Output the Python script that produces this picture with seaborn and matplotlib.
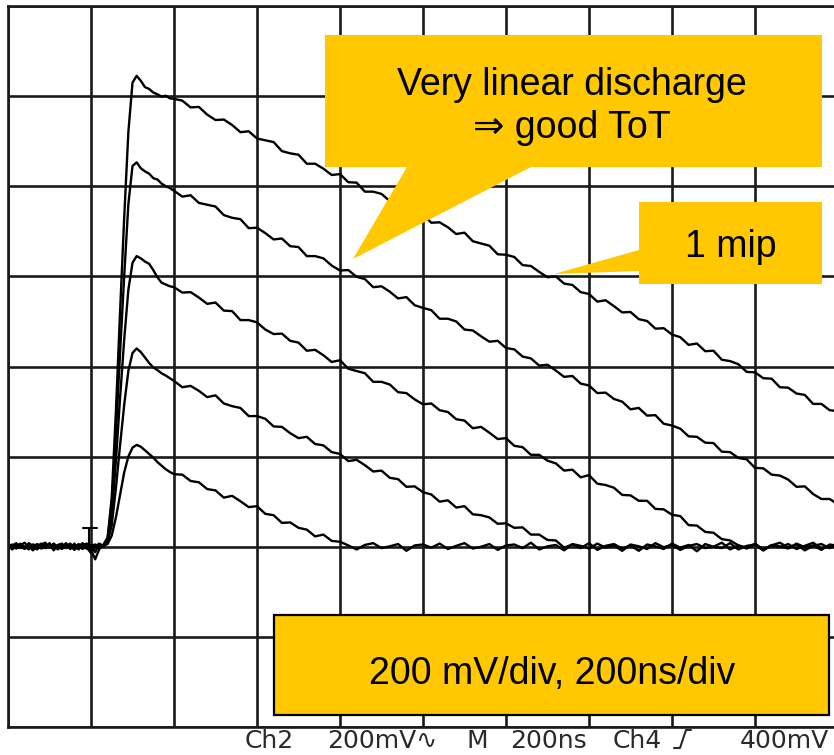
import numpy as np
import pandas as pd
import matplotlib
matplotlib.use("Agg")
import matplotlib.pyplot as plt
from matplotlib.patches import Polygon, Rectangle
import seaborn as sns

# Sample times (ns): 10 ns steps around the trigger edge, 20 ns along the discharge
t_ns = np.r_[np.arange(-200, 201, 10), np.arange(220, 1801, 20)]

# Recorded preamp output for five input charges (mV above baseline)
trace_1 = [
    4, -3, 6, 1, -5, 8, 2, -4, 5, 9,
    -2, 3, -6, 4, 1, 7, -3, 2, -5, 6,
    -8, 3, -4, 5, 20, 110, 300, 520, 730, 920,
    1030, 1045, 1034, 1020, 1016, 1008, 1004, 999, 1001, 995,
    994,
    990, 975, 976, 959, 947, 948, 936, 920, 922, 906,
    902, 898, 878, 873, 870, 850, 850, 839, 825, 827,
    809, 808, 788, 788, 783, 767, 756, 757, 742, 737,
    719, 720, 709, 694, 697, 678, 673, 668, 649, 648,
    643, 625, 623, 610, 598, 600, 584, 581, 565, 561,
    544, 547, 534, 520, 521, 505, 501, 484, 485, 471,
    465, 448, 451, 434, 435, 415, 412, 405, 388, 387,
    374, 373, 354, 353, 340, 337, 317, 317, 303, 301,
]
trace_2 = [
    -2, 5, 0, 7, -4, 3, -7, 6, 1, -3,
    8, -5, 2, -1, 5, -4, 7, -6, 3, 1,
    4, -12, 6, 2, 18, 92, 250, 430, 600, 760,
    845, 853, 840, 833, 828, 818, 815, 806, 800, 796,
    790,
    777, 780, 763, 759, 755, 736, 730, 727, 707, 708,
    696, 682, 684, 667, 665, 645, 645, 640, 624, 613,
    614, 599, 594, 576, 578, 566, 551, 554, 536, 530,
    525, 506, 506, 500, 482, 480, 467, 455, 457, 441,
    438, 422, 418, 402, 404, 391, 377, 379, 362, 358,
    341, 342, 328, 322, 305, 308, 291, 292, 273, 269,
    262, 245, 244, 231, 230, 211, 210, 197, 194, 175,
    174, 160, 158, 149, 133, 134, 117, 106, 106, 94,
]
trace_3 = [
    6, 1, -4, 3, 9, -2, 4, -6, 2, 5,
    -1, 7, 0, -5, 3, 1, -2, 6, -1, -4,
    2, 5, -3, 4, 14, 70, 190, 330, 460, 570,
    630, 645, 640, 633, 628, 614, 598, 586, 582, 578,
    576,
    564, 565, 553, 539, 542, 524, 523, 503, 503, 498,
    482, 472, 473, 457, 453, 435, 437, 425, 410, 414,
    395, 390, 385, 366, 366, 360, 343, 341, 327, 316,
    318, 303, 299, 283, 280, 263, 266, 253, 239, 241,
    224, 221, 204, 204, 191, 185, 169, 171, 154, 159,
    140, 137, 131, 115, 114, 102, 102, 84, 83, 71,
    68, 48, 47, 33, 31, 17, 14, 3, -4, 7,
    -6, 3, 9, -2, 5, -8, 2, 6, -3, 4,
]
trace_4 = [
    -5, 2, 8, -3, 1, -6, 5, 3, -4, 0,
    6, -8, 4, 7, -3, 2, -7, 1, 8, -2,
    -14, 1, 7, 0, 10, 48, 130, 225, 315, 390,
    430, 440, 432, 420, 408, 398, 392, 385, 380, 374,
    368,
    354, 357, 346, 332, 336, 318, 312, 308, 290, 290,
    284, 267, 266, 252, 241, 244, 228, 225, 210, 206,
    190, 193, 181, 167, 169, 153, 150, 133, 134, 121,
    116, 100, 103, 87, 90, 72, 70, 65, 51, 52,
    42, 43, 27, 27, 15, 14, -2, 5, -3, 8,
    -7, 2, 6, -4, 3, -9, 5, 1, -5, 7,
    -2, 4, -10, 6, 0, -3, 8, -6, 2, 5,
    -8, 3, -1, 6, -5, 2, 9, -4, 1, -2,
]
trace_5 = [
    3, -6, 2, 5, -1, 4, -8, 1, 7, -3,
    2, 5, -4, 0, 8, -5, 3, -2, 4, 7,
    -6, -28, -5, 3, 6, 25, 65, 115, 165, 200,
    220, 226, 222, 214, 206, 198, 188, 180, 172, 166,
    161,
    160, 146, 143, 128, 125, 109, 113, 101, 88, 90,
    73, 70, 53, 54, 42, 38, 23, 27, 13, 11,
    3, -6, 4, 8, -3, 1, 6, -9, 3, 5,
    -2, 7, -5, 2, 8, -4, 0, 6, -7, 3,
    5, -3, 9, -6, 1, 4, -8, 6, 2, -4,
    7, -2, 3, -9, 5, 1, -5, 8, -1, 4,
    -7, 2, 6, -3, 0, 9, -6, 3, -2, 5,
    -8, 4, 1, -4, 7, -1, 3, -7, 5, 2,
]
traces = {"q1": trace_1, "q2": trace_2, "q3": trace_3, "q4": trace_4, "q5": trace_5}

# Scope screen: 200 ns/div horizontally, 200 mV/div vertically
t_range = (-200, 1800)
v_range = (-400, 1200)
div_ns = 200
div_mv = 200
trigger_ns = -4
trigger_mv = 42

readout = [("Ch2", 245), ("200mV\u223F", 327), ("M", 467), ("200ns", 510),
           ("Ch4", 613), ("400mV", 740)]

callout_main = ["Very linear discharge", "\u21D2 good ToT"]
callout_mip = "1 mip"
callout_scale = "200 mV/div, 200ns/div"

frames = []
for name, vals in traces.items():
    assert len(vals) == len(t_ns), name
    frames.append(pd.DataFrame({"t_ns": t_ns, "mV": vals, "trace": name}))
df = pd.concat(frames, ignore_index=True)

sns.set_theme(style="white")
plt.rcParams["font.family"] = ["Liberation Sans", "DejaVu Sans"]

W, H = 834, 755
fig = plt.figure(figsize=(W / 100, H / 100), dpi=100)
fig.patch.set_facecolor("white")

# main scope graticule; the 10th division runs just past the right edge
ax = fig.add_axes([8 / W, 28 / H, 830 / W, 721 / H])
ax.set_facecolor("white")
sns.lineplot(data=df, x="t_ns", y="mV", units="trace", estimator=None,
             color="black", linewidth=1.7, ax=ax, legend=False)
ax.set_xlim(*t_range)
ax.set_ylim(*v_range)
ax.set_xticks(np.arange(t_range[0], t_range[1] + 1, div_ns))
ax.set_yticks(np.arange(v_range[0], v_range[1] + 1, div_mv))
ax.tick_params(length=0, labelbottom=False, labelleft=False)
ax.set_xlabel("")
ax.set_ylabel("")
ax.grid(True, color="#1a1a1a", linewidth=1.9)
ax.set_axisbelow(True)
for side in ("left", "top", "bottom"):
    ax.spines[side].set_color("#1a1a1a")
    ax.spines[side].set_linewidth(1.9)
ax.spines["right"].set_visible(False)

# trigger level marker
ax.plot([trigger_ns - 15, trigger_ns + 18], [trigger_mv, trigger_mv], color="black", lw=1.5)
ax.plot([trigger_ns, trigger_ns], [trigger_mv, 3], color="black", lw=1.5)

# overlay in pixel units for callouts and readout
ov = fig.add_axes([0, 0, 1, 1], zorder=5)
ov.set_xlim(0, W)
ov.set_ylim(H, 0)
ov.axis("off")

gold = "#FFC800"
ov.add_patch(Polygon([(325, 35), (822, 35), (822, 167), (531, 167), (353, 259),
                      (407, 167), (325, 167)], closed=True, facecolor=gold,
                     edgecolor="none"))
ov.add_patch(Polygon([(639, 202), (822, 202), (822, 284), (639, 284), (639, 271),
                      (554, 274), (639, 250)], closed=True, facecolor=gold,
                     edgecolor="none"))
ov.add_patch(Rectangle((274, 615), 555, 100, facecolor=gold, edgecolor="black",
                       linewidth=1.6))

fs = 27
ov.text(572, 95, callout_main[0], ha="center", va="baseline", fontsize=fs, color="black")
ov.text(572, 138, callout_main[1], ha="center", va="baseline", fontsize=fs, color="black")
ov.text(731, 257, callout_mip, ha="center", va="baseline", fontsize=fs, color="black")
ov.text(552, 684, callout_scale, ha="center", va="baseline", fontsize=fs, color="black")

rc = "#2a2a2a"
for label, x in readout:
    ov.text(x, 748, label, ha="left", va="baseline", fontsize=18, color=rc,
            family=["DejaVu Sans"])
# rising-edge trigger slope icon
ov.plot([674, 680, 686, 691], [748, 748, 730, 730], color=rc, lw=1.5)

fig.savefig("out.png", dpi=100, facecolor="white")
